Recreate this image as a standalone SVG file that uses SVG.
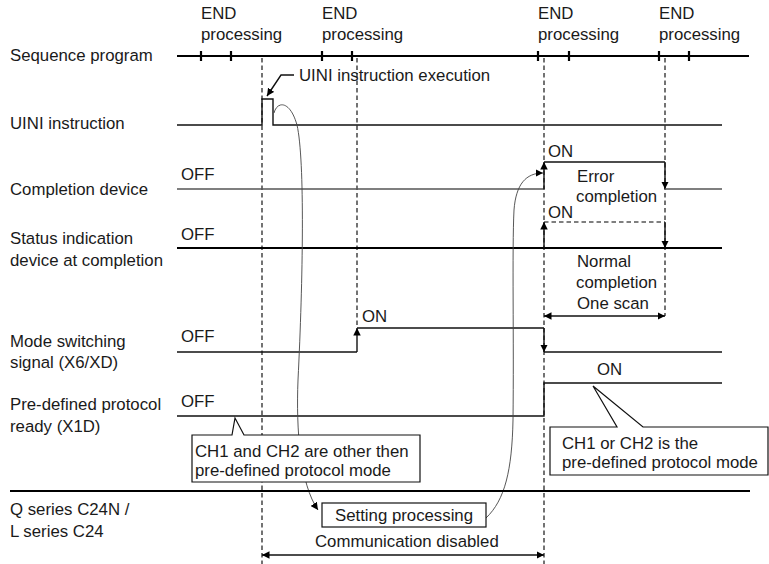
<svg xmlns="http://www.w3.org/2000/svg" width="769" height="564" viewBox="0 0 769 564">
<style>
text{font-family:"Liberation Sans",Arial,sans-serif;font-size:16.8px;fill:#1a1a1a}
.sig{stroke:#111;stroke-width:1.4;fill:none}
.thick{stroke:#000;stroke-width:2.2;fill:none}
.gray{stroke:#555;stroke-width:1.6;fill:none}
.dash{stroke:#000;stroke-width:1.1;stroke-dasharray:4.5,3;fill:none}
.curve{stroke:#444;stroke-width:0.9;fill:none}
.box{fill:#fff;stroke:#111;stroke-width:1.2}
</style>
<defs>
<marker id="ah" viewBox="0 0 10 10" refX="10" refY="5" markerWidth="7.5" markerHeight="7.5" markerUnits="userSpaceOnUse" orient="auto-start-reverse"><path d="M0,0 L10,5 L0,10 z" fill="#000"/></marker>
</defs>
<rect width="769" height="564" fill="#fff"/>

<g id="labels">
<text x="10" y="61">Sequence program</text>
<text x="10" y="129">UINI instruction</text>
<text x="10" y="195">Completion device</text>
<text x="10" y="244">Status indication</text>
<text x="10" y="266">device at completion</text>
<text x="10" y="347">Mode switching</text>
<text x="10" y="368">signal (X6/XD)</text>
<text x="10" y="410">Pre-defined protocol</text>
<text x="10" y="432">ready (X1D)</text>
<text x="10" y="515">Q series C24N /</text>
<text x="10" y="537">L series C24</text>
</g>

<g id="end-labels">
<text x="201" y="19">END</text><text x="201" y="40">processing</text>
<text x="322" y="19">END</text><text x="322" y="40">processing</text>
<text x="538" y="19">END</text><text x="538" y="40">processing</text>
<text x="659" y="19">END</text><text x="659" y="40">processing</text>
</g>

<g id="guides">
<line class="dash" x1="262" y1="58" x2="262" y2="564"/>
<line class="dash" x1="357" y1="58" x2="357" y2="328"/>
<line class="dash" x1="544" y1="58" x2="544" y2="564"/>
<line class="dash" x1="665" y1="58" x2="665" y2="316"/>
</g>

<g id="sequence-program">
<line class="thick" x1="177" y1="56" x2="749" y2="56"/>
<path class="thick" d="M201,51V61M231,51V61M322,51V61M352,51V61M538,51V61M569,51V61M659,51V61M689,51V61"/>
</g>

<g id="uini-instruction">
<path class="sig" d="M177,125H262V99H273V125H722"/>
<text x="299" y="81">UINI instruction execution</text>
<path class="sig" d="M294,75H281L267,96" marker-end="url(#ah)"/>
</g>

<g id="completion-device">
<text x="181" y="180">OFF</text>
<line class="gray" x1="177" y1="189" x2="544" y2="189"/>
<line class="sig" x1="544" y1="189" x2="544" y2="162" marker-end="url(#ah)"/>
<line class="sig" x1="544" y1="162" x2="665" y2="162"/>
<line class="sig" x1="665" y1="162" x2="665" y2="189" marker-end="url(#ah)"/>
<line class="gray" x1="665" y1="189" x2="722" y2="189"/>
<text x="548" y="157">ON</text>
<text x="577" y="182">Error</text>
<text x="576" y="202">completion</text>
</g>

<g id="status-indication">
<text x="181" y="240">OFF</text>
<line class="thick" x1="177" y1="248" x2="722" y2="248"/>
<line class="sig" x1="544" y1="248" x2="544" y2="222" marker-end="url(#ah)"/>
<line class="dash" x1="544" y1="222" x2="665" y2="222"/>
<line class="sig" x1="665" y1="222" x2="665" y2="248" marker-end="url(#ah)"/>
<text x="548" y="218">ON</text>
<text x="577" y="267">Normal</text>
<text x="576" y="288">completion</text>
<text x="577" y="309">One scan</text>
<line class="sig" x1="544" y1="316" x2="665" y2="316" marker-start="url(#ah)" marker-end="url(#ah)"/>
</g>

<g id="mode-switching">
<text x="181" y="342">OFF</text>
<line class="sig" x1="177" y1="352" x2="357" y2="352"/>
<line class="sig" x1="357" y1="352" x2="357" y2="328" marker-end="url(#ah)"/>
<line class="sig" x1="357" y1="328" x2="544" y2="328"/>
<line class="sig" x1="544" y1="328" x2="544" y2="352" marker-end="url(#ah)"/>
<line class="sig" x1="544" y1="352" x2="722" y2="352"/>
<text x="362" y="322">ON</text>
</g>

<g id="protocol-ready">
<text x="181" y="407">OFF</text>
<path class="sig" d="M177,416H544V383H722"/>
<text x="597" y="375">ON</text>
</g>

<g id="connectors">
<path class="curve" d="M274,113C277,101 290,100 297,125C305,160 303,280 298,380C296,430 300,484 318,510" marker-end="url(#ah)"/>
<path class="curve" d="M486,518C505,500 512,470 513,420C514,340 512,250 514,210C516,184 526,173 543,173" marker-end="url(#ah)"/>
</g>

<g id="callout-left">
<path class="box" d="M192,435H232L235,418L244,435H420V482H192Z"/>
<text x="195" y="457">CH1 and CH2 are other then</text>
<text x="195" y="476">pre-defined protocol mode</text>
</g>

<g id="callout-right">
<path class="box" d="M550,427H617L593,386L643,427H768V475H550Z"/>
<text x="562" y="449">CH1 or CH2 is the</text>
<text x="562" y="468">pre-defined protocol mode</text>
</g>

<g id="c24">
<line class="thick" x1="10" y1="491" x2="750" y2="491"/>
<rect class="box" x="322" y="503" width="164" height="24"/>
<text x="404" y="521" text-anchor="middle">Setting processing</text>
<text x="315" y="547">Communication disabled</text>
<line class="sig" x1="262" y1="555" x2="544" y2="555" marker-start="url(#ah)" marker-end="url(#ah)"/>
</g>
</svg>
